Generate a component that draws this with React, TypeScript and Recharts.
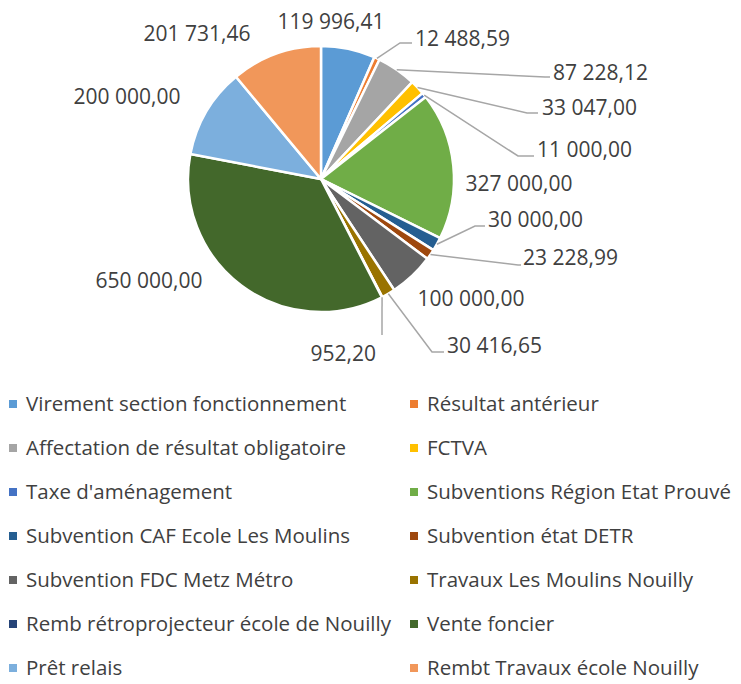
import React from 'react';
import { PieChart, Pie, Cell } from 'recharts';

const categories: string[] = [
  'Virement section fonctionnement',
  'Résultat antérieur',
  'Affectation de résultat obligatoire',
  'FCTVA',
  "Taxe d'aménagement",
  'Subventions Région Etat Prouvé',
  'Subvention CAF Ecole Les Moulins',
  'Subvention état DETR',
  'Subvention FDC Metz Métro',
  'Travaux Les Moulins Nouilly',
  'Remb rétroprojecteur école de Nouilly',
  'Vente foncier',
  'Prêt relais',
  'Rembt Travaux école Nouilly',
];

const values: number[] = [
  119996.41, 12488.59, 87228.12, 33047.0, 11000.0, 327000.0, 30000.0,
  23228.99, 100000.0, 30416.65, 952.2, 650000.0, 200000.0, 201731.46,
];

// Excel office palette (accents, then darker, then lighter)
const colors = [
  '#5B9BD5', '#ED7D31', '#A5A5A5', '#FFC000', '#4472C4', '#70AD47',
  '#255E91', '#9E480E', '#636363', '#997300', '#264478', '#43682B',
  '#7CAFDD', '#F1975A',
];

// label placement relative to the pie centre; elbow/end are leader line bends
type LabelPos = { dx: number; dy: number; anchor: 'start' | 'middle' | 'end'; elbow?: [number, number]; end?: [number, number] };
const labelLayout: LabelPos[] = [
  { dx: 10, dy: -158, anchor: 'middle' },
  { dx: 94, dy: -141, anchor: 'start', elbow: [79, -136], end: [91, -136] },
  { dx: 232, dy: -107, anchor: 'start', elbow: [224, -102], end: [229, -102] },
  { dx: 221, dy: -72, anchor: 'start', elbow: [206, -66], end: [217, -66] },
  { dx: 216, dy: -30, anchor: 'start', elbow: [197, -23], end: [213, -23] },
  { dx: 198, dy: 4, anchor: 'middle' },
  { dx: 167, dy: 40, anchor: 'start', elbow: [154, 47], end: [164, 47] },
  { dx: 202, dy: 78, anchor: 'start', elbow: [197, 86], end: [200, 86] },
  { dx: 150, dy: 119, anchor: 'middle' },
  { dx: 126, dy: 166, anchor: 'start', elbow: [111, 173], end: [123, 173] },
  { dx: 55, dy: 174, anchor: 'end', elbow: [61, 156] },
  { dx: -172, dy: 101, anchor: 'middle' },
  { dx: -194, dy: -83, anchor: 'middle' },
  { dx: -124, dy: -146, anchor: 'middle' },
];

const fmt = (v: number) => {
  const [int, dec] = v.toFixed(2).split('.');
  return int.replace(/\B(?=(\d{3})+(?!\d))/g, ' ') + ',' + dec;
};

const data = categories.map((name, i) => ({ name, value: values[i] }));

const RAD = Math.PI / 180;

const renderLabel = (props: any) => {
  const { cx, cy, midAngle, outerRadius, index, value } = props;
  const pos = labelLayout[index];
  const ex = cx + outerRadius * Math.cos(-midAngle * RAD);
  const ey = cy + outerRadius * Math.sin(-midAngle * RAD);
  let points = '';
  if (pos.elbow) {
    points = `${ex},${ey} ${cx + pos.elbow[0]},${cy + pos.elbow[1]}`;
    if (pos.end) points += ` ${cx + pos.end[0]},${cy + pos.end[1]}`;
  }
  return (
    <g key={`lbl-${index}`}>
      {points && <polyline points={points} fill="none" stroke="#A6A6A6" strokeWidth={1.5} />}
      <text
        x={cx + pos.dx}
        y={cy + pos.dy}
        textAnchor={pos.anchor}
        dominantBaseline="central"
        fill="#404040"
        fontSize={21}
        fontFamily="'Open Sans', sans-serif"
      >
        {fmt(value)}
      </text>
    </g>
  );
};

const App = () => {
  return (
    <div style={{ width: 741, fontFamily: "'Open Sans', sans-serif" }}>
      <PieChart width={741} height={372}>
        <Pie
          data={data}
          dataKey="value"
          nameKey="name"
          cx={308}
          cy={166}
          outerRadius={133}
          startAngle={90}
          endAngle={-270}
          stroke="#fff"
          strokeWidth={2.5}
          labelLine={false}
          label={renderLabel}
          isAnimationActive={false}
        >
          {data.map((entry, index) => (
            <Cell key={`cell-${index}`} fill={colors[index]} />
          ))}
        </Pie>
      </PieChart>
      <div
        style={{
          display: 'grid',
          gridTemplateColumns: '401px 1fr',
          gridAutoRows: '44px',
          paddingLeft: 1,
          marginTop: 1,
        }}
      >
        {categories.map((name, i) => (
          <div key={name} style={{ display: 'flex', alignItems: 'center', whiteSpace: 'nowrap' }}>
            <span style={{ width: 8, height: 8, background: colors[i], marginRight: 9, marginTop: 2, flexShrink: 0 }} />
            <span style={{ fontSize: 20.5, color: '#404040' }}>{name}</span>
          </div>
        ))}
      </div>
    </div>
  );
};

export default App;
